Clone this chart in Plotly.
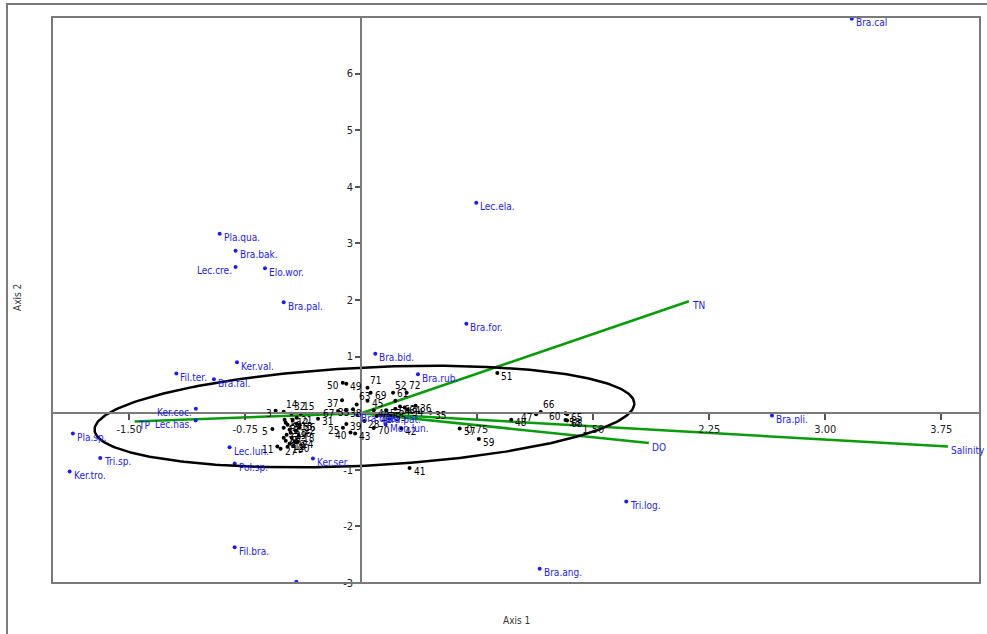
import numpy as np
import plotly.graph_objects as go

# ---- site scores (CCA axis 1, axis 2) ----
site_ids = [1, 2, 3, 4, 5, 6, 7, 8, 9, 10, 11, 12, 13, 14, 15, 16, 17, 18, 19, 20,
            21, 22, 23, 24, 25, 26, 27, 28, 29, 30, 31, 32, 33, 34, 35, 36, 37, 38, 39, 40,
            41, 42, 43, 44, 45, 46, 47, 48, 49, 50, 51, 52, 53, 54, 55, 56, 57, 58, 59, 60,
            61, 62, 63, 64, 65, 66, 67, 68, 69, 70, 71, 72]
site_ax1 = [-0.496, -0.477, -0.554, -0.464, -0.575, -0.483, -0.451, -0.489, -0.431, -0.464,
            -0.543, -0.444, -0.418, -0.502, -0.392, -0.425, -0.502, -0.405, -0.477, -0.438,
            -0.418, -0.399, -0.502, -0.412, -0.119, -0.399, -0.522, 0.020, -0.457, -0.489,
            -0.280, -0.451, -0.054, 0.300, 0.448, 0.351, -0.125, -0.100, -0.097, -0.070,
            0.312, 0.259, -0.040, 0.080, 0.040, 0.100, 1.130, 0.969, -0.097, -0.120,
            0.879, 0.205, 0.160, 0.220, 0.190, 0.140, 0.636, 1.320, 0.760, 1.320,
            0.220, 0.250, -0.030, 0.280, 1.330, 1.160, -0.150, 1.330, 0.060, 0.080,
            0.040, 0.293]
site_ax2 = [-0.115, -0.203, 0.044, -0.292, -0.279, -0.380, -0.433, -0.486, -0.504, -0.539,
            -0.587, -0.115, -0.186, 0.027, -0.009, -0.309, -0.256, -0.398, -0.592, -0.575,
            -0.080, -0.256, -0.433, -0.504, -0.256, -0.203, -0.628, -0.140, -0.345, -0.168,
            -0.100, -0.009, 0.070, 0.060, 0.010, 0.133, 0.230, 0.050, -0.190, -0.340,
            -0.970, -0.270, -0.360, 0.050, 0.220, -0.050, -0.020, -0.115, 0.520, 0.540,
            0.710, 0.360, 0.050, 0.080, -0.030, 0.000, -0.270, -0.120, -0.456, 0.000,
            0.220, 0.120, 0.155, 0.100, -0.020, 0.020, 0.040, -0.130, 0.360, -0.260,
            0.450, 0.360]

# ---- species scores ----
species_names = ["Bra.cal", "Lec.ela.", "Bra.for.", "Pla.qua.", "Bra.bak.", "Lec.cre.",
                 "Elo.wor.", "Bra.pal.", "Bra.bid.", "Ker.val.", "Fil.ter.", "Bra.fal.",
                 "Bra.rub.", "Ker.coc.", "Lec.has.", "Pla.sp.", "Tri.sp.", "Ker.tro.",
                 "Lec.lun.", "Pol.sp.", "Ker.ser.", "Fil.bra.", "Bra.ang.", "Tri.log.",
                 "Bra.pli.", "Bra.qua.", "Bra.pat.", "Mon.lun.", ""]
species_ax1 = [3.171, 0.743, 0.679, -0.916, -0.813, -0.813, -0.623, -0.502, 0.090, -0.804,
               -1.196, -0.953, 0.366, -1.070, -1.071, -1.865, -1.688, -1.886, -0.852, -0.819,
               -0.313, -0.819, 1.153, 1.713, 2.655, -0.027, 0.125, 0.157, -0.420]
species_ax2 = [6.970, 3.720, 1.580, 3.170, 2.870, 2.585, 2.560, 1.960, 1.050, 0.900,
               0.700, 0.600, 0.690, 0.080, -0.130, -0.360, -0.790, -1.030, -0.600, -0.890,
               -0.800, -2.370, -2.750, -1.560, -0.040, -0.030, -0.040, -0.200, -2.980]

# ---- environmental variable vectors ----
env_names = ["TP", "TN", "DO", "Salinity"]
env_ax1 = [-1.466, 2.118, 1.859, 3.793]
env_ax2 = [-0.145, 1.977, -0.527, -0.587]

# ---- axis ticks ----
x_ticks = [-1.5, -0.75, 0.75, 1.5, 2.25, 3.0, 3.75]
x_tick_labels = ["-1.50", "-0.75", "0.75", "1.50", "2.25", "3.00", "3.75"]
y_ticks = [-3, -2, -1, 1, 2, 3, 4, 5, 6]
y_tick_labels = ["-3", "-2", "-1", "1", "2", "3", "4", "5", "6"]

X_RANGE = [-2, 4]
Y_RANGE = [-3, 7]

# label placement: which labels sit left of their point / above it
species_left = {"Lec.cre.", "Ker.coc.", "Lec.has."}
sites_left = {3, 5, 11, 25, 33, 37, 40, 47, 50, 60, 67}
sites_above = {14, 15, 32, 52, 61, 63, 66, 71, 72}

FONT = "DejaVu Sans Condensed, Liberation Sans Narrow, Arial Narrow, sans-serif"
LABEL_SIZE = 10
BLUE = "#1a1aff"
GREEN = "#099c09"
GREY = "#7a7a7a"

fig = go.Figure()

# environmental arrows (lines from the origin)
for name, ex, ey in zip(env_names, env_ax1, env_ax2):
    fig.add_trace(go.Scatter(x=[0, ex], y=[0, ey], mode="lines",
                             line=dict(color=GREEN, width=2.5),
                             hoverinfo="skip", showlegend=False))

# site points
fig.add_trace(go.Scatter(x=site_ax1, y=site_ax2, mode="markers",
                         marker=dict(color="black", size=4),
                         text=[str(s) for s in site_ids], showlegend=False))

# species points
fig.add_trace(go.Scatter(x=species_ax1, y=species_ax2, mode="markers",
                         marker=dict(color=BLUE, size=4),
                         text=species_names, showlegend=False))

# 95% ellipse around the site cloud
ell_center = (0.02, -0.06)
ell_u = (1.745, 0.238)
ell_v = (-0.0158, 0.865)
t = np.linspace(0, 2 * np.pi, 300)
ex = ell_center[0] + ell_u[0] * np.cos(t) + ell_v[0] * np.sin(t)
ey = ell_center[1] + ell_u[1] * np.cos(t) + ell_v[1] * np.sin(t)
fig.add_trace(go.Scatter(x=ex, y=ey, mode="lines",
                         line=dict(color="black", width=2.5),
                         hoverinfo="skip", showlegend=False))

annotations = []

# site labels
for sid, sx, sy in zip(site_ids, site_ax1, site_ax2):
    if sid in sites_left:
        annotations.append(dict(x=sx, y=sy, text=str(sid), xanchor="right", yanchor="middle",
                                xshift=-2, yshift=-3))
    elif sid in sites_above:
        annotations.append(dict(x=sx, y=sy, text=str(sid), xanchor="left", yanchor="bottom",
                                xshift=0, yshift=0))
    else:
        annotations.append(dict(x=sx, y=sy, text=str(sid), xanchor="left", yanchor="middle",
                                xshift=2, yshift=-3))
for a in annotations:
    a.update(showarrow=False, font=dict(family=FONT, size=LABEL_SIZE, color="black"))

# species labels
for name, sx, sy in zip(species_names, species_ax1, species_ax2):
    if not name:
        continue
    left = name in species_left
    annotations.append(dict(x=sx, y=sy, text=name, showarrow=False,
                            xanchor="right" if left else "left", yanchor="middle",
                            xshift=-2 if left else 2, yshift=-4,
                            font=dict(family=FONT, size=LABEL_SIZE, color=BLUE)))

# environmental variable labels
for name, vx, vy in zip(env_names, env_ax1, env_ax2):
    annotations.append(dict(x=vx, y=vy, text=name, showarrow=False,
                            xanchor="left", yanchor="middle", xshift=1, yshift=-4,
                            font=dict(family=FONT, size=LABEL_SIZE, color=BLUE)))

# axis titles
annotations.append(dict(x=0.5, y=-0.067, xref="paper", yref="paper", text="Axis 1",
                        xanchor="center", yanchor="middle", showarrow=False,
                        font=dict(family=FONT, size=10, color="#333333")))
annotations.append(dict(x=-0.038, y=0.505, xref="paper", yref="paper", text="Axis 2",
                        xanchor="center", yanchor="middle", textangle=-90, showarrow=False,
                        font=dict(family=FONT, size=10, color="#333333")))

x_pos = (0 - X_RANGE[0]) / (X_RANGE[1] - X_RANGE[0])
y_pos = (0 - Y_RANGE[0]) / (Y_RANGE[1] - Y_RANGE[0])

fig.update_layout(
    width=987, height=634,
    margin=dict(l=52, r=7, t=17, b=51),
    paper_bgcolor="white", plot_bgcolor="white",
    annotations=annotations,
    xaxis=dict(range=X_RANGE, anchor="free", position=y_pos,
               tickvals=x_ticks, ticktext=x_tick_labels,
               ticks="outside", ticklen=6, tickwidth=1.5, tickcolor="#555555",
               showline=True, linecolor=GREY, linewidth=2,
               showgrid=False, zeroline=False,
               tickfont=dict(family=FONT, size=11, color="#222222")),
    yaxis=dict(range=Y_RANGE, anchor="free", position=x_pos,
               tickvals=y_ticks, ticktext=y_tick_labels,
               ticks="outside", ticklen=5, tickwidth=1.5, tickcolor="#555555",
               showline=True, linecolor=GREY, linewidth=2,
               showgrid=False, zeroline=False,
               tickfont=dict(family=FONT, size=11, color="#222222")),
    shapes=[
        # plot frame
        dict(type="rect", xref="paper", yref="paper", x0=0, y0=0, x1=1, y1=1,
             line=dict(color=GREY, width=2)),
        # outer panel border
        dict(type="rect", xref="paper", yref="paper", x0=-0.0485, y0=-0.11,
             x1=1.02, y1=1.023, line=dict(color=GREY, width=2)),
    ],
)

fig.write_html("out.html")
